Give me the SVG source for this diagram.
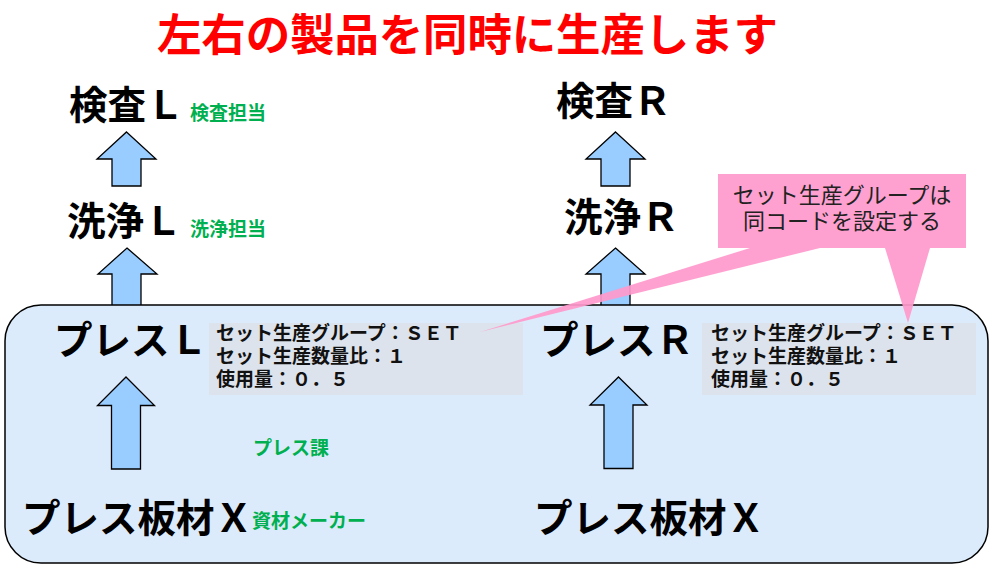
<svg xmlns="http://www.w3.org/2000/svg" width="990" height="571" viewBox="0 0 990 571">
<style>
text{font-family:"Noto Sans CJK JP","Noto Sans CJK SC",sans-serif;}
.big{font-size:38.5px;font-weight:700;fill:#000;}
.info{font-size:19px;font-weight:700;fill:#111;}
.green{font-size:19px;font-weight:700;fill:#00b050;}
.arrow{fill:#99ccff;stroke:#000;stroke-width:1.3;stroke-linejoin:miter;}
.title{font-size:44.5px;font-weight:700;fill:#ff0000;}
.note{font-size:22px;font-weight:400;fill:#222;}
</style>
<rect width="990" height="571" fill="#ffffff"/>
<text class="title" x="157" y="51" textLength="621" lengthAdjust="spacing">左右の製品を同時に生産します</text>
<g id="connectors">
<polygon class="arrow" points="126.5,132 156,159 141,159 141,186 112,186 112,159 97,159"/>
<polygon class="arrow" points="127,248 157,274 141,274 141,306 112,306 112,274 98,274"/>
<polygon class="arrow" points="615.5,132 645,159 630,159 630,186 601,186 601,159 586,159"/>
<polygon class="arrow" points="615.5,248 645,274 630,274 630,306 601,306 601,274 586,274"/>
</g>
<g id="press-area">
<rect x="5" y="305" width="983" height="258" rx="36" ry="36" fill="#dcebfb" stroke="#000" stroke-width="1.5"/>
</g>
<g id="connectors-inner">
<polygon class="arrow" points="126,377 154.5,405.5 140.5,405.5 140.5,469 111.5,469 111.5,405.5 97.5,405.5"/>
<polygon class="arrow" points="618.5,377 647,405 633,405 633,468.5 604,468.5 604,405 590,405"/>
</g>
<g id="kensa-l"><text class="big" x="69" y="119">検査Ｌ</text><text class="green" x="190" y="120">検査担当</text></g>
<g id="senjo-l"><text class="big" x="67" y="235">洗浄Ｌ</text><text class="green" x="190" y="236">洗浄担当</text></g>
<g id="kensa-r"><text class="big" x="556" y="115">検査Ｒ</text></g>
<g id="senjo-r"><text class="big" x="564" y="231">洗浄Ｒ</text></g>
<g id="press-l">
<text class="big" x="54" y="354">プレスＬ</text>
<rect x="209" y="323" width="314" height="72" fill="#dde3ec"/>
<text class="info" x="216" y="340">セット生産グループ：ＳＥＴ</text>
<text class="info" x="216" y="363">セット生産数量比：１</text>
<text class="info" x="216" y="386">使用量：０．５</text>
</g>
<g id="press-r">
<text class="big" x="540" y="354">プレスＲ</text>
<rect x="702" y="323" width="274" height="72" fill="#dde3ec"/>
<text class="info" x="711" y="340">セット生産グループ：ＳＥＴ</text>
<text class="info" x="711" y="363">セット生産数量比：１</text>
<text class="info" x="711" y="386">使用量：０．５</text>
</g>
<g id="press-dept"><text class="green" x="253" y="455">プレス課</text></g>
<g id="material-l"><text class="big" x="22" y="532">プレス板材Ｘ</text><text class="green" x="252" y="528">資材メーカー</text></g>
<g id="material-r"><text class="big" x="534" y="532">プレス板材Ｘ</text></g>
<g id="callout">
<path d="M718,174 H966 V248 H930 L908,323 L885,248 H820 L480,332 L750,248 H718 Z" fill="#ff99cc" fill-opacity="0.92"/>
<text class="note" x="842" y="203" text-anchor="middle">セット生産グループは</text>
<text class="note" x="842" y="229" text-anchor="middle">同コードを設定する</text>
</g>
</svg>
